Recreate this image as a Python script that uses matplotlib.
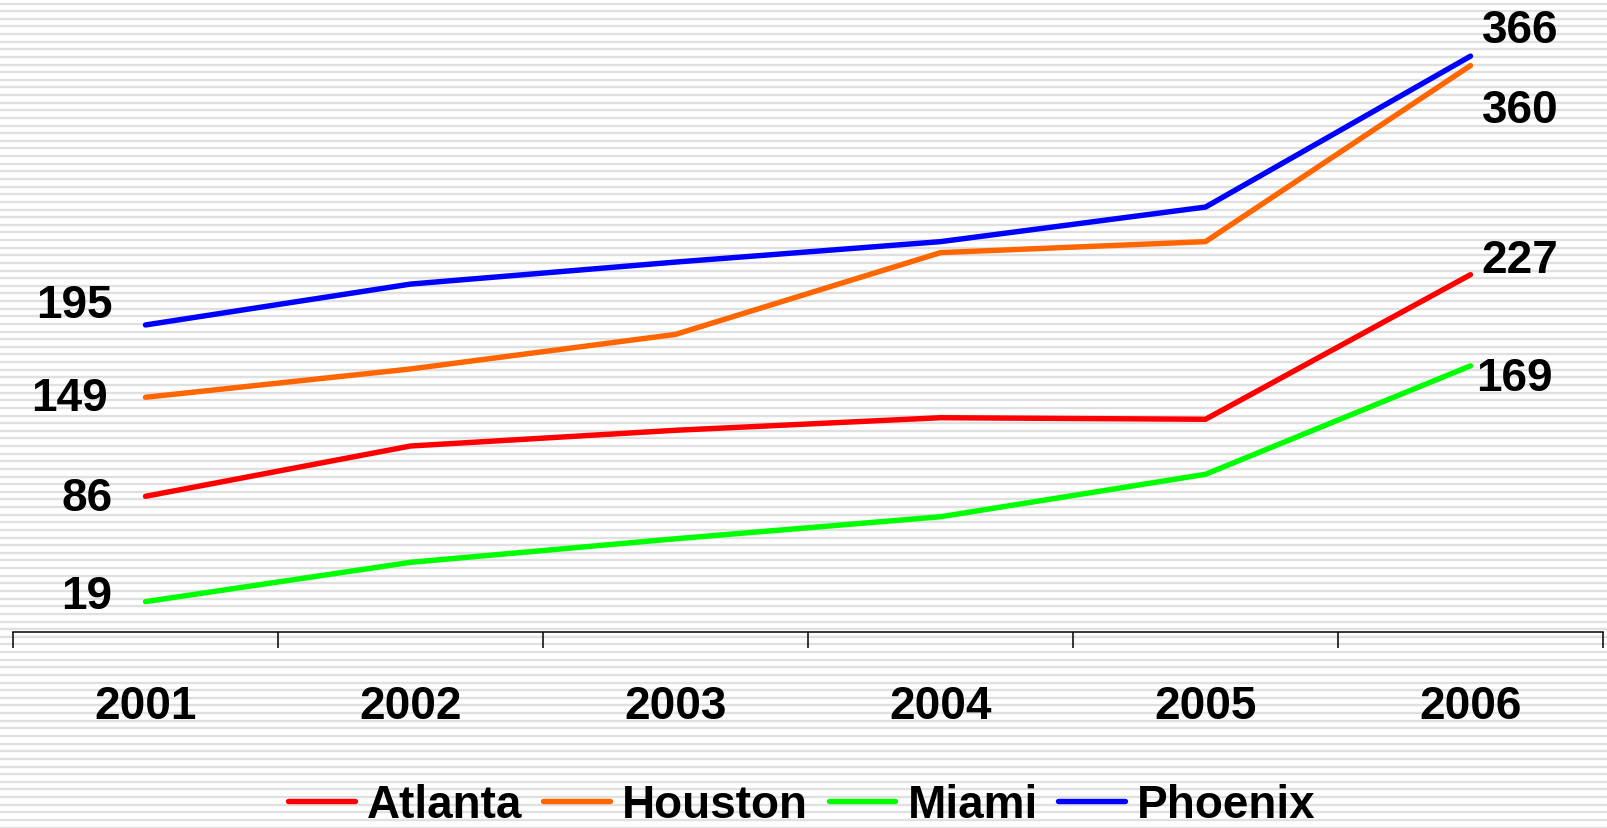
import numpy as np
import matplotlib
matplotlib.use('Agg')
import matplotlib.pyplot as plt
from matplotlib.ticker import FixedLocator

plt.rcParams['font.family'] = ['Liberation Sans', 'DejaVu Sans']
plt.rcParams['font.weight'] = 'bold'

years = ['2001', '2002', '2003', '2004', '2005', '2006']
atlanta = [86, 118, 128, 136, 135, 227]
houston = [149, 167, 189, 241, 248, 360]
miami = [19, 44, 59, 73, 100, 169]
phoenix = [195, 221, 235, 248, 270, 366]

names = ['Atlanta', 'Houston', 'Miami', 'Phoenix']
colors = ['#ff0000', '#ff6600', '#00ff00', '#0000ff']
series = [atlanta, houston, miami, phoenix]

W, H = 1607, 829
fig = plt.figure(figsize=(W / 100, H / 100), dpi=100)

# striped background
bg = fig.add_axes([0, 0, 1, 1], zorder=-1)
bg.set_xlim(0, W)
bg.set_ylim(H, 0)
bg.hlines(np.arange(4.5, H, 7.63), 0, W, color='#e0e0e0', lw=1.7)
bg.axis('off')

ax = fig.add_axes([13 / W, (H - 632.5) / H, 1590 / W, 628.8 / H])
ax.set_facecolor('none')

x = np.arange(len(years))
for vals, name, c in zip(series, names, colors):
    ax.plot(x, vals, color=c, lw=3.9, label=name, solid_capstyle='round',
            solid_joinstyle='miter')

ax.set_xlim(-0.5, len(years) - 0.5)
ax.set_ylim(0, 400)

for s in ['left', 'right', 'top']:
    ax.spines[s].set_visible(False)
ax.spines['bottom'].set_linewidth(1.1)
ax.set_yticks([])

ax.set_xticks(x)
ax.set_xticklabels(years, fontsize=33, fontweight='bold')
ax.tick_params(axis='x', which='major', length=0, pad=38)
ax.xaxis.set_minor_locator(FixedLocator(np.arange(-0.5, len(years), 1.0)))
ax.tick_params(axis='x', which='minor', length=11.5, width=1.1, direction='out')

# end labels: (series, index, dx px, dy px, ha)
labels = [
    (phoenix, 0, -33, 20, 'right'),
    (houston, 0, -38, -1, 'right'),
    (atlanta, 0, -33, -2, 'right'),
    (miami, 0, -33, 6, 'right'),
    (phoenix, 5, 11, 26, 'left'),
    (houston, 5, 11, -44, 'left'),
    (atlanta, 5, 11, 15, 'left'),
    (miami, 5, 6, -12, 'left'),
]
for vals, i, dx, dy, ha in labels:
    ax.annotate(str(vals[i]), (x[i], vals[i]), xytext=(dx, dy),
                textcoords='offset pixels', ha=ha, va='center',
                fontsize=33, fontweight='bold')

fig.legend(loc='center', bbox_to_anchor=(802 / W, 1 - 806 / H), ncol=4,
           frameon=False, prop={'size': 33, 'weight': 'bold'},
           handlelength=1.46, handletextpad=0.26, columnspacing=0.45,
           borderpad=0)

fig.savefig('out.png', dpi=100)
